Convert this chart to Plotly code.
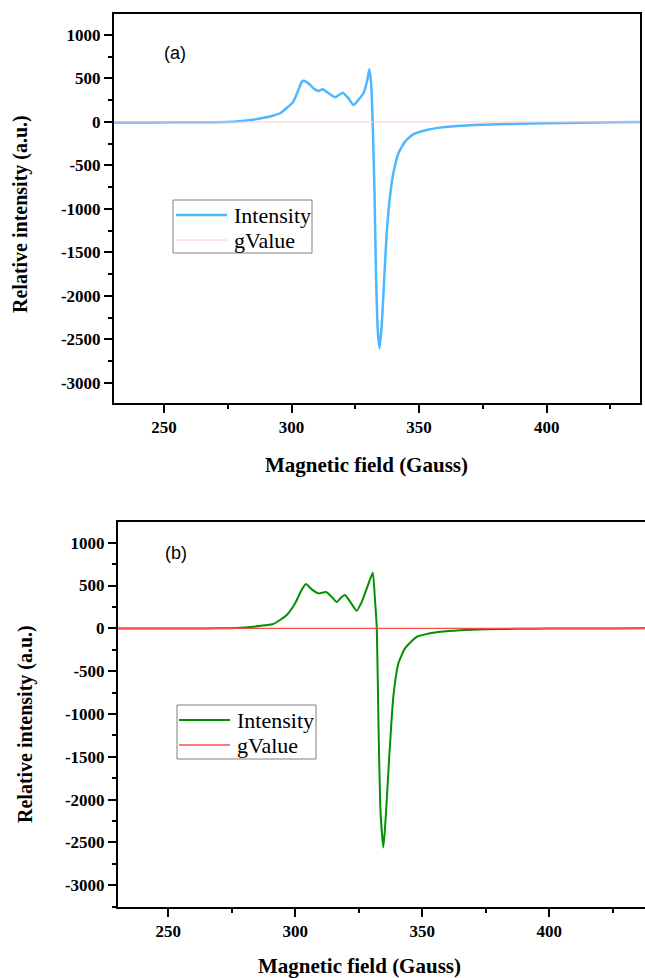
import plotly.graph_objects as go

# ---------------- data ----------------
field_a = [230, 245, 260, 270, 277, 284, 290, 293, 295.5, 298, 300.7, 302.7, 304.0, 304.9,
           306.6, 308.6, 310.5, 312.2, 314.5, 317.1, 320.1, 322.3, 324.3, 326.2, 328.2,
           329.7, 330.5, 331.2, 331.8, 332.5, 333.1, 333.8, 334.5, 335.4, 336.3, 337.3,
           338.6, 339.9, 341.9, 344.5, 347.8, 353.0, 358.2, 365, 375, 387, 400, 413, 425, 437]
intensity_a = [-6, -5, -4, -2, 3, 23, 54, 75, 100, 157, 234, 368, 464, 475,
               444, 387, 356, 376, 330, 284, 337, 272, 192, 253, 330,
               483, 605, 444, 4, -781, -1739, -2390, -2601, -2314, -1816, -1280,
               -858, -590, -360, -226, -140, -92, -65, -45, -32, -23, -15, -8, -4, 0]

field_b = [230, 245, 260, 270, 277, 283.4, 288, 291.3, 294.0, 296.6, 299.9, 302.5, 304.2,
           306.5, 309.1, 312.1, 314.3, 316.3, 318.0, 319.6, 321.6, 324.2, 326.2, 328.4,
           330.5, 331.3, 332.1, 332.8, 333.6, 334.7, 335.7, 337.0, 338.6, 340.6, 343.2,
           347.8, 353.1, 357.0, 365, 375, 387, 400, 413, 425, 438]
intensity_b = [-3, -3, -2, 0, 5, 19, 35, 50, 97, 155, 291, 447, 517,
               455, 408, 424, 369, 307, 358, 389, 311, 206, 311, 486,
               650, 369, 0, -1188, -2162, -2559, -2162, -1500, -799, -410, -234,
               -100, -58, -40, -22, -11, -6, -3, -2, -1, 0]

gfield = [230, 440]
gvalue = [0, 0]

series_names = ["Intensity", "gValue"]
x_ticks = [250, 300, 350, 400]
x_labels = ["250", "300", "350", "400"]
y_ticks = [1000, 500, 0, -500, -1000, -1500, -2000, -2500, -3000]
y_labels = ["1000", "500", "0", "-500", "-1000", "-1500", "-2000", "-2500", "-3000"]

W, H = 645, 978
SERIF = "Liberation Serif, Times New Roman, serif"
SANS = "Liberation Sans, Arial, sans-serif"

col_a = ["#4DB8FF", "#FFC8C8"]
col_b = ["#009000", "#FF4A4A"]

fig = go.Figure()
fig.add_trace(go.Scatter(x=field_a, y=intensity_a, name=series_names[0], mode="lines",
                         line=dict(color=col_a[0], width=2.5, shape="spline", smoothing=0.5),
                         xaxis="x", yaxis="y", showlegend=False))
fig.add_trace(go.Scatter(x=gfield, y=gvalue, name=series_names[1], mode="lines",
                         line=dict(color=col_a[1], width=1),
                         xaxis="x", yaxis="y", showlegend=False))
fig.add_trace(go.Scatter(x=field_b, y=intensity_b, name=series_names[0], mode="lines",
                         line=dict(color=col_b[0], width=2, shape="spline", smoothing=0.5),
                         xaxis="x2", yaxis="y2", showlegend=False))
fig.add_trace(go.Scatter(x=gfield, y=gvalue, name=series_names[1], mode="lines",
                         line=dict(color=col_b[1], width=1.3),
                         xaxis="x2", yaxis="y2", showlegend=False))

tickfont = dict(family=SERIF, size=17, color="black")

def bold(lst):
    return ["<b>%s</b>" % s for s in lst]

def xax(domain, rng, anchor):
    return dict(domain=domain, range=rng, anchor=anchor, tickvals=x_ticks, ticktext=bold(x_labels),
                ticks="outside", ticklen=8, tickwidth=2, tickcolor="black",
                showline=True, linewidth=2, linecolor="black", mirror=True,
                showgrid=False, zeroline=False, tickfont=tickfont,
                minor=dict(ticks="outside", ticklen=4, tickwidth=2, tickcolor="black",
                           dtick=25, tick0=0, showgrid=False))

def yax(domain, rng, anchor, mirror):
    return dict(domain=domain, range=rng, anchor=anchor, tickvals=y_ticks, ticktext=bold(y_labels),
                ticks="outside", ticklen=8, tickwidth=2, tickcolor="black",
                showline=True, linewidth=2, linecolor="black", mirror=mirror,
                showgrid=False, zeroline=False, tickfont=tickfont,
                minor=dict(ticks="outside", ticklen=4, tickwidth=2, tickcolor="black",
                           dtick=250, tick0=0, showgrid=False))

fig.update_layout(
    width=W, height=H, autosize=False,
    margin=dict(l=0, r=0, t=0, b=0),
    paper_bgcolor="white", plot_bgcolor="white",
    xaxis=xax([114 / W, 640 / W], [230.4, 436.6], "y"),
    yaxis=yax([1 - 403 / H, 1 - 14 / H], [-3230, 1241], "x", True),
    xaxis2=xax([118 / W, 1.0], [230.2, 437.7], "y2"),
    yaxis2=yax([1 - 906.7 / H, 1 - 521.7 / H], [-3250, 1245], "x2", False),
    showlegend=False,
)

def px(x, y):
    return x / W, 1 - y / H

# ---- legends drawn as boxes with sample lines and labels ----
for (bx0, by0, bx1, by1, lx0, lx1, tx, rows, cols, widths) in [
        (173, 200, 312, 253, 176, 227, 232, [215, 240], col_a, [2.5, 1]),
        (177, 705, 316, 759, 179, 230, 235, [720, 745], col_b, [2, 1.3])]:
    x0, y0 = px(bx0, by0)
    x1, y1 = px(bx1, by1)
    fig.add_shape(type="rect", xref="paper", yref="paper", x0=x0, y0=y0, x1=x1, y1=y1,
                  line=dict(color="#808080", width=1), fillcolor="rgba(0,0,0,0)")
    for i, (ry, c, w) in enumerate(zip(rows, cols, widths)):
        a0, ya = px(lx0, ry)
        a1, _ = px(lx1, ry)
        fig.add_shape(type="line", xref="paper", yref="paper", x0=a0, y0=ya, x1=a1, y1=ya,
                      line=dict(color=c, width=w))
        tpx, tpy = px(tx, ry)
        fig.add_annotation(text=series_names[i], x=tpx, y=tpy, xref="paper", yref="paper",
                           showarrow=False, xanchor="left", yanchor="middle",
                           font=dict(family=SERIF, size=22, color="black"))

annots = [
    dict(text="(a)", x=175, y=53, font=dict(family=SANS, size=18, color="black")),
    dict(text="(b)", x=176, y=553, font=dict(family=SANS, size=18, color="black")),
    dict(text="<b>Magnetic field (Gauss)</b>", x=366, y=465,
         font=dict(family=SERIF, size=21, color="black")),
    dict(text="<b>Magnetic field (Gauss)</b>", x=359, y=966,
         font=dict(family=SERIF, size=21, color="black")),
    dict(text="<b>Relative intensity (a.u.)</b>", x=20, y=214, textangle=-90,
         font=dict(family=SERIF, size=20, color="black")),
    dict(text="<b>Relative intensity (a.u.)</b>", x=25, y=724, textangle=-90,
         font=dict(family=SERIF, size=20, color="black")),
]
for a in annots:
    ax, ay = px(a["x"], a["y"])
    fig.add_annotation(text=a["text"], x=ax, y=ay,
                       xref="paper", yref="paper", showarrow=False, borderpad=0,
                       xanchor="center", yanchor="middle", font=a["font"],
                       textangle=a.get("textangle", 0))

fig.write_html("out.html")
